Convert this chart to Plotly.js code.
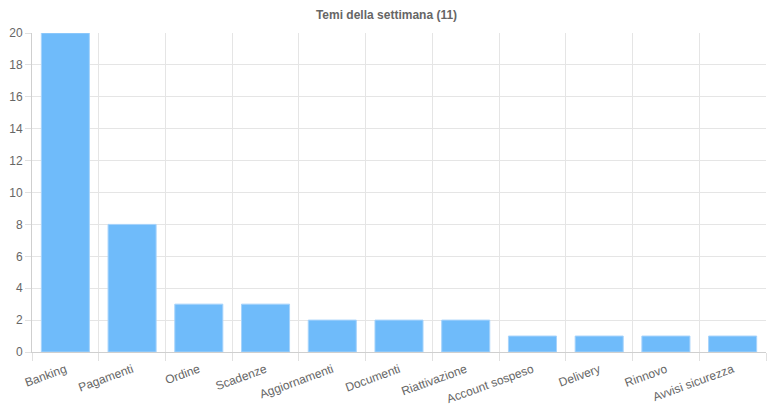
<!DOCTYPE html>
<html><head><meta charset="utf-8">
<script src="https://cdn.plot.ly/plotly-3.0.1.min.js"></script>
<style>html,body{margin:0;padding:0;background:#fff}#c{width:773px;height:411px}</style>
</head><body><div id="c"></div>
<script>
var categories = ["Banking","Pagamenti","Ordine","Scadenze","Aggiornamenti","Documenti","Riattivazione","Account sospeso","Delivery","Rinnovo","Avvisi sicurezza"];
var counts = [20,8,3,3,2,2,2,1,1,1,1];
var yTicks = [0,2,4,6,8,10,12,14,16,18,20];
var chartTitle = "Temi della settimana (11)";

var trace = {
  type: "bar", x: categories, y: counts,
  marker: {color: "#6fbbfa", line: {color: "#a6d3fb", width: 1}},
  hoverinfo: "x+y"
};
var layout = {
  width: 773, height: 411,
  margin: {l: 32, r: 7, t: 33, b: 59},
  paper_bgcolor: "#fff", plot_bgcolor: "#fff",
  font: {family: "Liberation Sans, Arial, sans-serif", size: 12, color: "#666"},
  title: {text: "<b>" + chartTitle + "</b>", x: 0.5, xanchor: "center", y: 0.965, yanchor: "middle", font: {size: 12, color: "#666"}},
  bargap: 0.28,
  showlegend: false,
  xaxis: {
    type: "category", tickson: "boundaries", ticks: "outside", ticklen: 8, tickcolor: "#e0e0e0",
    showgrid: true, gridcolor: "#e5e5e5", gridwidth: 1,
    showline: true, linecolor: "#cfcfcf", linewidth: 1,
    tickangle: -20, tickfont: {size: 12, color: "#666"}, ticklabelstandoff: 5, automargin: false
  },
  yaxis: {
    range: [0, 20], tickvals: yTicks, ticks: "outside", ticklen: 6, tickcolor: "#e0e0e0",
    showgrid: true, gridcolor: "#e5e5e5", zeroline: false,
    showline: true, linecolor: "#cfcfcf", linewidth: 1,
    tickfont: {size: 12, color: "#666"}, automargin: false
  }
};
Plotly.newPlot("c", [trace], layout, {displayModeBar: false, staticPlot: true});
</script></body></html>
